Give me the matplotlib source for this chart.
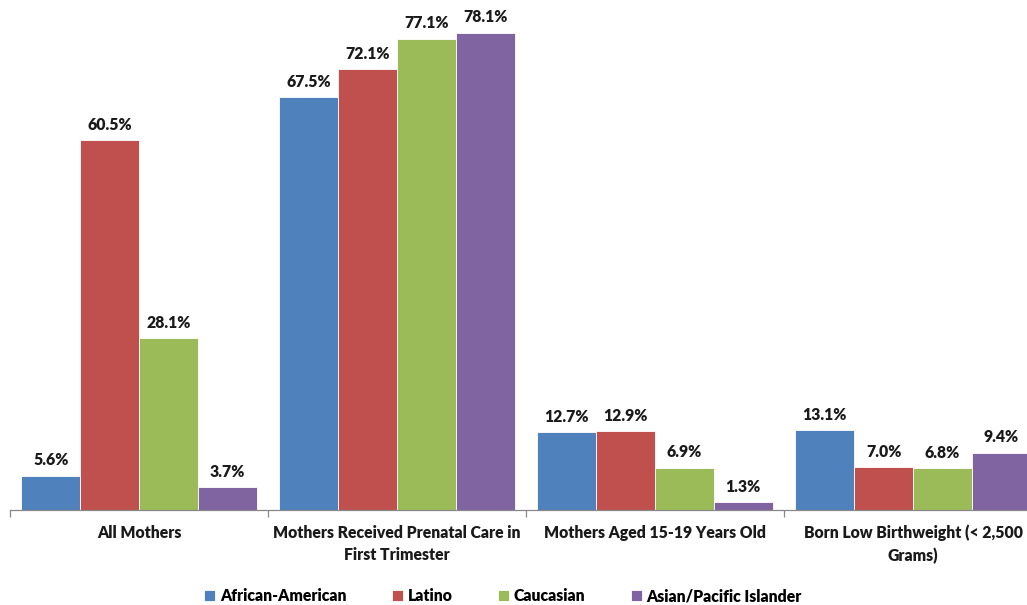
import numpy as np
import matplotlib.pyplot as plt

categories = ['All Mothers', 'Mothers Received Prenatal Care in\nFirst Trimester',
              'Mothers Aged 15-19 Years Old', 'Born Low Birthweight (< 2,500\nGrams)']
series = ['African-American', 'Latino', 'Caucasian', 'Asian/Pacific Islander']
african_american = [5.6, 67.5, 12.7, 13.1]
latino = [60.5, 72.1, 12.9, 7.0]
caucasian = [28.1, 77.1, 6.9, 6.8]
asian_pi = [3.7, 78.1, 1.3, 9.4]
colors = ['#4F81BD', '#C0504D', '#9BBB59', '#8064A2']

plt.rcParams['font.family'] = ['Lato', 'DejaVu Sans']
WT = 800

fig = plt.figure(figsize=(10.27, 6.05), dpi=100)
W, H = 1027, 605
# axes from x=10 to 1042 px, baseline at y=510 px
ax = fig.add_axes([10 / W, (H - 510) / H, 1032 / W, 489 / H])

x = np.arange(len(categories))
bw = 0.228
vals = [african_american, latino, caucasian, asian_pi]
for i, (name, v) in enumerate(zip(series, vals)):
    pos = x + (i - 1.5) * bw
    ax.bar(pos, v, bw, color=colors[i], edgecolor='white', linewidth=0.6, label=name)
    for px, pv in zip(pos, v):
        ax.text(px, pv + 1.2, f'{pv:.1f}%', ha='center', va='bottom',
                fontsize=11.3, fontweight=WT, color='#1a1a1a')

ax.set_xlim(-0.5, 3.5)
ax.set_ylim(0, 80)
ax.set_yticks([])
for s in ['top', 'right', 'left']:
    ax.spines[s].set_visible(False)
ax.spines['bottom'].set_color('#888888')
ax.spines['bottom'].set_linewidth(0.9)

ax.set_xticks(np.arange(-0.5, 3.6, 1.0))
ax.set_xticklabels([])
ax.tick_params(axis='x', length=5, color='#888888', width=0.9)
for xi, lab in zip(x, categories):
    ax.text(xi, -2.4, lab, ha='center', va='top', fontsize=11.3, fontweight=WT,
            color='#1a1a1a', linespacing=1.5, transform=ax.transData, clip_on=False)

handles, labels = ax.get_legend_handles_labels()
fig.legend(handles, labels, loc='center', bbox_to_anchor=(503 / W, (H - 596) / H),
           ncol=4, frameon=False, prop={'weight': WT, 'size': 11.3},
           handlelength=0.7, handleheight=0.7, handletextpad=0.3, columnspacing=2.9)

fig.savefig('out.png', dpi=100)
